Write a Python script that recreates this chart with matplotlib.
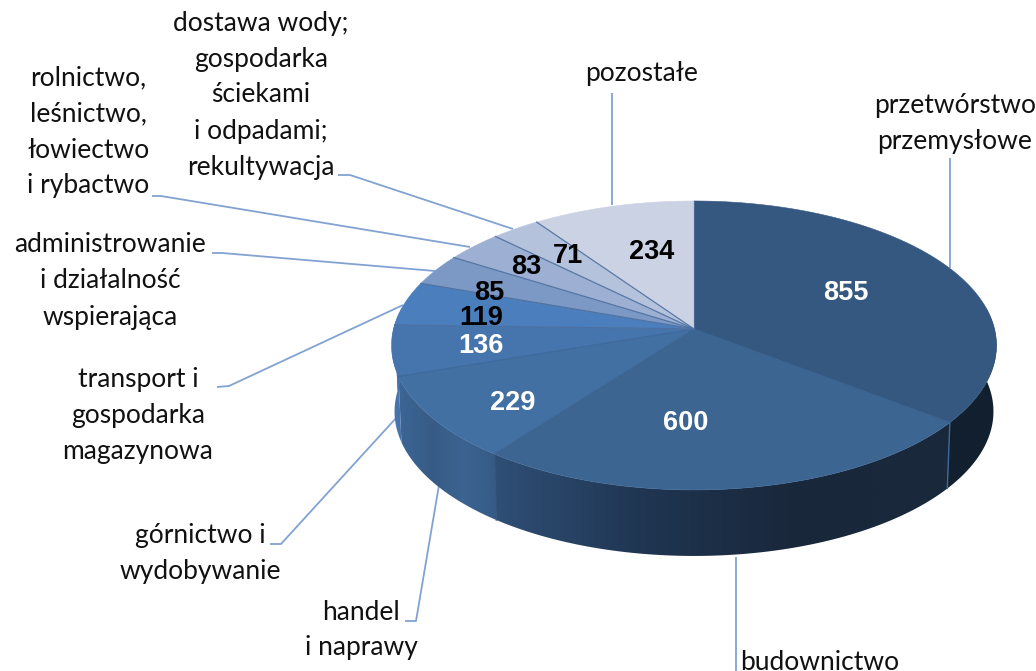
import numpy as np
import matplotlib
matplotlib.use("Agg")
import matplotlib.pyplot as plt
from matplotlib.colors import LinearSegmentedColormap
from matplotlib.patches import Polygon

categories = ["przetwórstwo\nprzemysłowe", "budownictwo", "handel\ni naprawy",
              "górnictwo i\nwydobywanie", "transport i\ngospodarka\nmagazynowa",
              "administrowanie\ni działalność\nwspierająca",
              "rolnictwo,\nleśnictwo,\nłowiectwo\ni rybactwo",
              "dostawa wody;\ngospodarka\nściekami\ni odpadami;\nrekultywacja", "pozostałe"]
values = [855, 600, 229, 136, 119, 85, 83, 71, 234]
top_colors = ["#34587F", "#3C6592", "#4370A3", "#4675AE", "#4B7EBC", "#7C99C6", "#9DB0D3", "#B5C2DC", "#CBD2E3"]
# horizontal gradient of each visible side wall, left to right
side_stops = [["#12202F", "#12202F"], ["#2F4F76", "#1F3551", "#19273A", "#19293B"],
              ["#3D6696", "#375B85", "#3C6491", "#355A85"], ["#4674AC", "#4674AC"], ["#4674AC", "#4674AC"],
              ["#7C99C6", "#7C99C6"], ["#9DB0D3", "#9DB0D3"], ["#B5C2DC", "#B5C2DC"], ["#CBD2E3", "#CBD2E3"]]
value_pos = [(846, 293), (686, 423), (513, 403), (481, 346), (481, 318), (489, 293), (526, 267), (568, 256), (652, 252)]
value_col = ["white", "white", "white", "white", "black", "black", "black", "black", "black"]
label_pos = [(955, 124), (820, 662), (361, 630), (200, 553), (138, 416), (110, 281), (88, 132), (261, 95), (642, 73)]
leaders = [
    [(950, 158), (950, 268)],
    [(736, 557), (736, 671)],
    [(405, 621), (416, 621), (439, 485)],
    [(270, 544), (281, 544), (397, 417)],
    [(217, 387), (229, 386), (403, 305)],
    [(212, 253), (222, 253), (435, 271)],
    [(152, 196), (161, 196), (470, 247)],
    [(338, 175), (350, 175), (513, 229)],
    [(612, 93), (612, 205)],
]

plt.rcParams['font.family'] = ['Lato', 'DejaVu Sans']
fig = plt.figure(figsize=(10.36, 6.71), dpi=100)
ax = fig.add_axes([0, 0, 1, 1])
ax.set_xlim(0, 1036); ax.set_ylim(671, 0); ax.axis('off')

CX, CY, R, S, K, DEPTH = 694, 329, 300.5, 142.6, 0.114, 66

def proj(t):
    u, v = np.sin(t), -np.cos(t)
    w = 1 - K * v
    return CX + R * u / w, CY + S * v / w

def proj_low(t):
    x, y = proj(t)
    return CX + (x - CX) * 0.99, y + DEPTH

fr = np.cumsum([0] + values) / sum(values) * 2 * np.pi

# side walls: horizontal gradients clipped to each wall's outline
LIMIT = np.arccos(0.15)
for i in range(len(values)):
    a = max(fr[i], LIMIT)
    b = min(fr[i + 1], 2 * np.pi - LIMIT)
    if b <= a:
        continue
    t = np.linspace(a, b, 200)
    x1, y1 = proj(t)
    x2, y2 = proj_low(t[::-1])
    xs, ys = np.r_[x1, x2], np.r_[y1, y2]
    cmap = LinearSegmentedColormap.from_list("s%d" % i, side_stops[i])
    im = ax.imshow(np.linspace(0, 1, 256)[None, :], cmap=cmap, aspect='auto', zorder=2,
                   extent=[xs.min(), xs.max(), ys.max(), ys.min()], interpolation='bilinear')
    clip = Polygon(np.c_[xs, ys], closed=True, transform=ax.transData, fc='none', ec='none')
    ax.add_patch(clip)
    im.set_clip_path(clip)
ax.set_xlim(0, 1036); ax.set_ylim(671, 0)

# seams on the side
for i, c in [(1, "#3F6A99"), (2, "#35597F")]:
    x0, y0 = proj(fr[i]); x1, y1 = proj_low(fr[i])
    ax.plot([x0, x1], [y0, y1], color=c, lw=1, zorder=3)

# top slices
for i in range(len(values)):
    t = np.linspace(fr[i], fr[i + 1], 200)
    x, y = proj(t)
    ax.fill(np.r_[CX, x], np.r_[CY, y], color=top_colors[i], lw=0.4, zorder=4)
for i in range(len(values)):
    x, y = proj(fr[i])
    col, a = ("#4C6F9E", 0.9) if i >= 4 else ("#3A6090", 0.6)
    ax.plot([CX, x], [CY, y], color=col, alpha=a, lw=0.9, zorder=5)

# leader lines
for pts in leaders:
    xs, ys = zip(*pts)
    ax.plot(xs, ys, color="#82A3D2", lw=1.3, zorder=1, solid_capstyle='butt')

for v, (x, y), c in zip(values, value_pos, value_col):
    ax.text(x, y, str(v), ha='center', va='center', color=c, fontsize=19.5,
            fontweight='bold', family='Liberation Sans', zorder=6)
for lab, (x, y) in zip(categories, label_pos):
    ax.text(x, y, lab, ha='center', va='center', multialignment='center', color='#111111',
            fontsize=19, linespacing=1.55, zorder=6)

fig.savefig("out.png", dpi=100)
